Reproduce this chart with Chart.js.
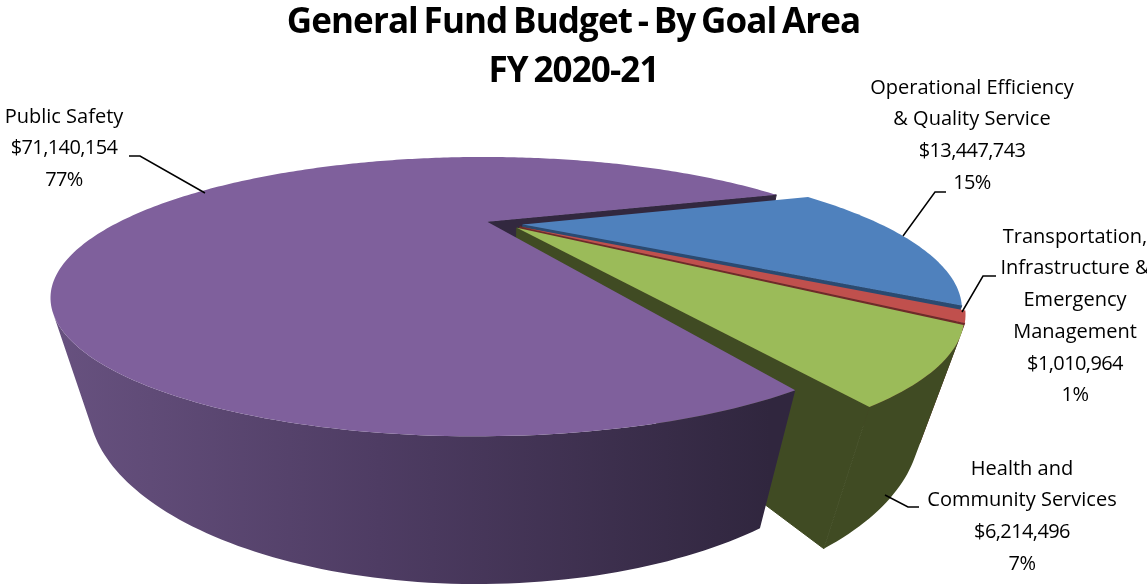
<!DOCTYPE html>
<html>
<head>
<meta charset="utf-8">
<title>General Fund Budget</title>
<script src="https://cdn.jsdelivr.net/npm/chart.js@4/dist/chart.umd.min.js"></script>
<style>
  html, body { margin: 0; padding: 0; background: #fff; }
  canvas { display: block; }
</style>
</head>
<body>
<canvas id="budgetChart" width="1147" height="585"></canvas>
<script>
const titleLines = ['General Fund Budget - By Goal Area', 'FY 2020-21'];
const goalNames = [
  ['Operational Efficiency', '& Quality Service'],
  ['Transportation,', 'Infrastructure &', 'Emergency', 'Management'],
  ['Health and', 'Community Services'],
  ['Public Safety']
];
const budgetValues = [13447743, 1010964, 6214496, 71140154];
const topColors = ['#4F81BD', '#C0504D', '#9BBB59', '#7F609C'];
const sideColors = ['#2B4A70', '#6E2B29', '#404B23', '#32283F'];

// camera for the tilted pie, fitted by eye to the picture
const cam = { x0: 487, y0: 222, f: 657.7, d: 1.795, s: 0.2724, c: 0.9622, zv: 0.2546, zw: 0.122 };
const pieCentre = { x: 0.047, y: 0.017 };
const explode = 0.05;
const rimScaleX = [0.965, 0.965, 0.965, 0.99];
const rimScaleY = [0.985, 0.985, 0.985, 1];
const rimShift = [0, 0, 0, -0.015];

// label anchor (centre x, first line y) and leader line per slice
const labelAt = [
  { x: 972, y: 88, line: [[946, 192], [935, 192], [903, 236]] },
  { x: 1075, y: 237, line: [[996, 276], [983, 276], [962, 312]] },
  { x: 1022, y: 469, line: [[919, 507], [908, 507], [885, 495]] },
  { x: 64, y: 117, line: [[129, 156], [140, 156], [205, 193]] }
];
const labelStep = 31.7;

function project(x, y, z) {
  const v = y * cam.s + z * cam.zv;
  const w = cam.d - y * cam.c + z * cam.zw;
  return [cam.x0 + cam.f * x / w, cam.y0 + cam.f * v / w];
}

function tracePoly(ctx, pts) {
  pts.forEach((p, i) => (i ? ctx.lineTo(p[0], p[1]) : ctx.moveTo(p[0], p[1])));
  ctx.closePath();
}

function fillPoly(ctx, pts, fill) {
  ctx.beginPath();
  tracePoly(ctx, pts);
  ctx.fillStyle = fill;
  ctx.fill();
}

// positive when the quad looks at the camera
function facing(q) {
  let area = 0;
  q.forEach((p, i) => {
    const n = q[(i + 1) % q.length];
    area += p[0] * n[1] - n[0] * p[1];
  });
  return area;
}

function sliceGeometry(arc, i) {
  const mid = (arc.startAngle + arc.endAngle) / 2;
  const cx = pieCentre.x + explode * Math.cos(mid);
  const cy = pieCentre.y + explode * Math.sin(mid);
  const n = Math.max(4, Math.round((arc.endAngle - arc.startAngle) * 60));
  const rim = [];
  for (let k = 0; k <= n; k++) {
    const a = arc.startAngle + (arc.endAngle - arc.startAngle) * k / n;
    rim.push([cx + rimShift[i] + rimScaleX[i] * Math.cos(a), cy + rimScaleY[i] * Math.sin(a)]);
  }
  return { cx, cy, rim };
}

function drawRadial(ctx, g, i) {
  const apexTop = project(g.cx, g.cy, 0);
  const apexBot = project(g.cx, g.cy, 1);
  // start edge runs one way, end edge the other, so the test flips
  [[g.rim[0], 1], [g.rim[g.rim.length - 1], -1]].forEach(([p, sign]) => {
    const q = [apexTop, project(p[0], p[1], 0), project(p[0], p[1], 1), apexBot];
    if (facing(q) * sign < 0) {
      fillPoly(ctx, q, sideColors[i]);
      // hides the hairline where this face meets the rim wall
      ctx.strokeStyle = sideColors[i];
      ctx.lineWidth = 1;
      ctx.stroke();
    }
  });
}

// all visible quads go in one path so no seams show between them
function drawRimWall(ctx, g, fill) {
  ctx.beginPath();
  for (let k = 0; k < g.rim.length - 1; k++) {
    const a = g.rim[k], b = g.rim[k + 1];
    const q = [project(a[0], a[1], 0), project(b[0], b[1], 0), project(b[0], b[1], 1), project(a[0], a[1], 1)];
    if (facing(q) < 0) tracePoly(ctx, q);
  }
  ctx.fillStyle = fill;
  ctx.fill();
}

function drawTop(ctx, g, fill) {
  const pts = [project(g.cx, g.cy, 0)].concat(g.rim.map(p => project(p[0], p[1], 0)));
  fillPoly(ctx, pts, fill);
}

const pie3dPlugin = {
  id: 'pie3d',
  beforeDraw(chart) {
    // squeeze the title a little, Open Sans runs wider than the original face
    chart.ctx.letterSpacing = '-0.9px';
    chart.ctx.wordSpacing = '-2.5px';
  },
  beforeDatasetDraw(chart) {
    const ctx = chart.ctx;
    ctx.letterSpacing = '0px';
    ctx.wordSpacing = '0px';
    const arcs = chart.getDatasetMeta(0).data;
    const geo = arcs.map((a, i) => sliceGeometry(a, i));
    const big = arcs.length - 1;

    ctx.save();
    // notch wall of the big slice sits behind everything
    drawRadial(ctx, geo[big], big);
    for (let i = 0; i < big; i++) {
      drawRimWall(ctx, geo[i], sideColors[i]);
      drawRadial(ctx, geo[i], i);
      drawTop(ctx, geo[i], topColors[i]);
    }
    const grad = ctx.createLinearGradient(60, 0, 770, 0);
    grad.addColorStop(0, '#67517F');
    grad.addColorStop(0.45, '#4E3C63');
    grad.addColorStop(1, '#30263E');
    drawRimWall(ctx, geo[big], grad);
    drawTop(ctx, geo[big], topColors[big]);
    ctx.restore();
    return false;
  },
  afterDatasetsDraw(chart) {
    const ctx = chart.ctx;
    const total = budgetValues.reduce((s, v) => s + v, 0);
    ctx.save();
    ctx.font = '20px "Open Sans"';
    ctx.fillStyle = '#000';
    ctx.strokeStyle = '#000';
    ctx.lineWidth = 1.5;
    ctx.textAlign = 'center';
    ctx.textBaseline = 'middle';
    goalNames.forEach((name, i) => {
      const at = labelAt[i];
      const value = '$' + budgetValues[i].toLocaleString('en-US');
      const pct = Math.round(budgetValues[i] / total * 100) + '%';
      let y = at.y;
      name.forEach(t => { ctx.fillText(t, at.x, y); y += labelStep; });
      ctx.letterSpacing = '-0.6px';
      ctx.fillText(value, at.x, y);
      ctx.fillText(pct, at.x, y + labelStep);
      ctx.letterSpacing = '0px';
      ctx.beginPath();
      at.line.forEach((p, k) => (k ? ctx.lineTo(p[0], p[1]) : ctx.moveTo(p[0], p[1])));
      ctx.stroke();
    });
    ctx.restore();
  }
};

new Chart(document.getElementById('budgetChart'), {
  type: 'pie',
  data: {
    labels: goalNames.map(n => n.join(' ')),
    datasets: [{ data: budgetValues, backgroundColor: topColors }]
  },
  options: {
    responsive: false,
    animation: false,
    rotation: 71.5,
    plugins: {
      legend: { display: false },
      tooltip: { enabled: false },
      title: {
        display: true,
        text: titleLines,
        color: '#000',
        font: { family: '"Open Sans"', size: 35, weight: 'bold', lineHeight: 1.4 },
        padding: { top: -1.5, bottom: 0 }
      }
    }
  },
  plugins: [pie3dPlugin]
});
</script>
</body>
</html>
